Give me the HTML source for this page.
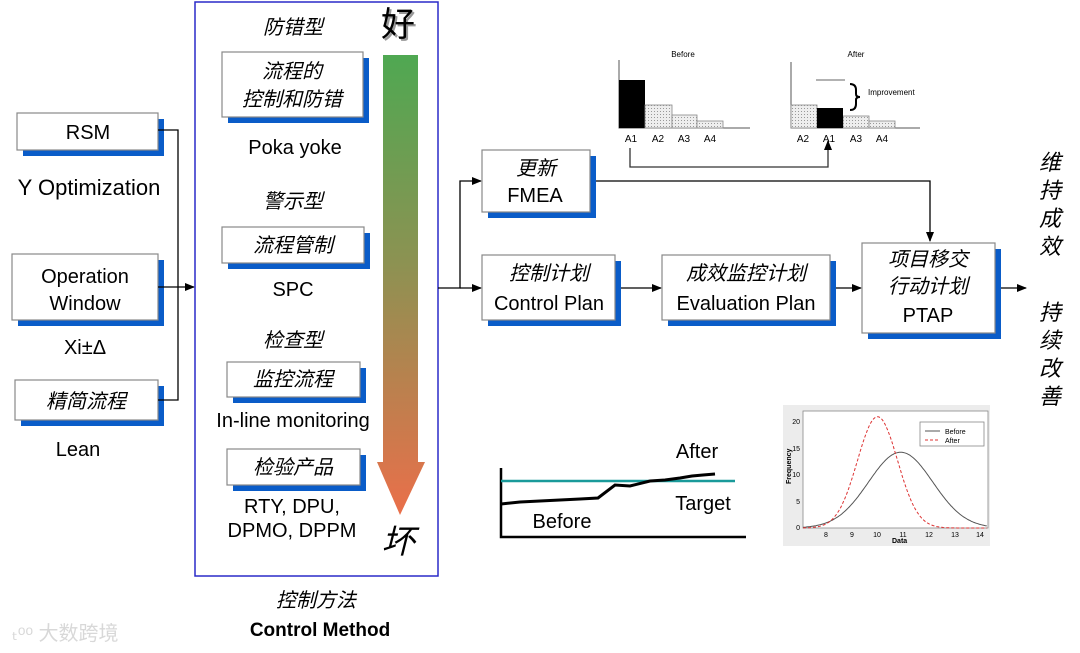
<!DOCTYPE html>
<html><head><meta charset="utf-8"><style>
html,body{margin:0;padding:0;background:#fff}
svg{display:block}
text{font-family:"Liberation Sans","Noto Sans CJK SC",sans-serif;fill:#000}
.cn{font-style:italic;font-size:20px}
.en{font-size:20px}
</style></head><body>
<svg width="1080" height="653" viewBox="0 0 1080 653" xmlns="http://www.w3.org/2000/svg">
<defs>
<linearGradient id="g" x1="0" y1="0" x2="0" y2="1">
<stop offset="0" stop-color="#4fa852"/><stop offset="0.45" stop-color="#8c9252"/><stop offset="1" stop-color="#ea6f4a"/>
</linearGradient>
<marker id="ah" markerWidth="10" markerHeight="10" refX="9" refY="5" orient="auto" markerUnits="userSpaceOnUse">
<path d="M0,1 L10,5 L0,9 z" fill="#000"/></marker>
<pattern id="dots" width="3" height="3" patternUnits="userSpaceOnUse"><rect width="3" height="3" fill="#eee"/><rect width="1" height="1" fill="#999"/></pattern>
</defs>

<!-- left boxes -->
<g stroke="none" fill="#0a5cc8">
<rect x="23" y="119" width="141" height="37"/>
<rect x="18" y="260" width="146" height="66"/>
<rect x="21" y="386" width="143" height="40"/>
</g>
<g fill="#fff" stroke="#888" stroke-width="1.2">
<rect x="17" y="113" width="141" height="37"/>
<rect x="12" y="254" width="146" height="66"/>
<rect x="15" y="380" width="143" height="40"/>
</g>
<text class="en" x="88" y="139" text-anchor="middle">RSM</text>
<text x="89" y="195" text-anchor="middle" style="font-size:22px">Y Optimization</text>
<text class="en" x="85" y="283" text-anchor="middle">Operation</text>
<text class="en" x="85" y="310" text-anchor="middle">Window</text>
<text class="en" x="85" y="354" text-anchor="middle">Xi±Δ</text>
<text class="cn" x="86" y="408" text-anchor="middle">精简流程</text>
<text class="en" x="78" y="456" text-anchor="middle">Lean</text>
<g stroke="#000" stroke-width="1.3" fill="none">
<path d="M158,130 H178 V400 H158"/>
<path d="M158,287 H194" marker-end="url(#ah)"/>
</g>

<!-- middle frame -->
<rect x="195" y="2" width="243" height="574" fill="none" stroke="#2a2ac8" stroke-width="1.5"/>
<text class="cn" x="293" y="34" text-anchor="middle">防错型</text>
<rect x="228" y="58" width="141" height="65" fill="#0a5cc8"/>
<rect x="222" y="52" width="141" height="65" fill="#fff" stroke="#888" stroke-width="1.2"/>
<text class="cn" x="292" y="78" text-anchor="middle">流程的</text>
<text class="cn" x="292" y="106" text-anchor="middle">控制和防错</text>
<text class="en" x="295" y="154" text-anchor="middle">Poka yoke</text>
<text class="cn" x="293" y="208" text-anchor="middle">警示型</text>
<rect x="228" y="233" width="142" height="36" fill="#0a5cc8"/>
<rect x="222" y="227" width="142" height="36" fill="#fff" stroke="#888" stroke-width="1.2"/>
<text class="cn" x="293" y="252" text-anchor="middle">流程管制</text>
<text class="en" x="293" y="296" text-anchor="middle">SPC</text>
<text class="cn" x="293" y="347" text-anchor="middle">检查型</text>
<rect x="233" y="368" width="133" height="35" fill="#0a5cc8"/>
<rect x="227" y="362" width="133" height="35" fill="#fff" stroke="#888" stroke-width="1.2"/>
<text class="cn" x="293" y="386" text-anchor="middle">监控流程</text>
<text class="en" x="293" y="427" text-anchor="middle">In-line monitoring</text>
<rect x="233" y="455" width="133" height="36" fill="#0a5cc8"/>
<rect x="227" y="449" width="133" height="36" fill="#fff" stroke="#888" stroke-width="1.2"/>
<text class="cn" x="293" y="474" text-anchor="middle">检验产品</text>
<text class="en" x="292" y="513" text-anchor="middle">RTY, DPU,</text>
<text class="en" x="292" y="537" text-anchor="middle">DPMO, DPPM</text>
<path d="M383,55 H418 V462 H425 L400,515 L377,462 H383 Z" fill="url(#g)"/>
<text x="400" y="38" text-anchor="middle" style="font-size:34px;fill:#999">好</text>
<text x="398" y="36" text-anchor="middle" style="font-size:34px">好</text>
<text x="398" y="553" text-anchor="middle" style="font-size:33px;font-style:italic">坏</text>
<text class="cn" x="316" y="607" text-anchor="middle">控制方法</text>
<text x="320" y="636" text-anchor="middle" style="font-size:19px;font-weight:bold">Control Method</text>

<!-- watermark -->
<text x="12" y="640" style="font-size:20px;fill:#d8d8d8">ₜᵒᵒ 大数跨境</text>

<!-- right flow -->
<g stroke="#000" stroke-width="1.3" fill="none">
<path d="M438,288 H460 V181 H481" marker-end="url(#ah)"/>
<path d="M460,288 H481" marker-end="url(#ah)"/>
<path d="M590,181 H930 V241" marker-end="url(#ah)"/>
<path d="M615,288 H661" marker-end="url(#ah)"/>
<path d="M830,288 H861" marker-end="url(#ah)"/>
<path d="M995,288 H1026" marker-end="url(#ah)"/>
</g>
<g fill="#0a5cc8">
<rect x="488" y="156" width="108" height="62"/>
<rect x="488" y="261" width="133" height="65"/>
<rect x="668" y="261" width="168" height="65"/>
<rect x="868" y="249" width="133" height="90"/>
</g>
<g fill="#fff" stroke="#888" stroke-width="1.2">
<rect x="482" y="150" width="108" height="62"/>
<rect x="482" y="255" width="133" height="65"/>
<rect x="662" y="255" width="168" height="65"/>
<rect x="862" y="243" width="133" height="90"/>
</g>
<text class="cn" x="536" y="175" text-anchor="middle">更新</text>
<text class="en" x="535" y="202" text-anchor="middle">FMEA</text>
<text class="cn" x="549" y="280" text-anchor="middle">控制计划</text>
<text class="en" x="549" y="310" text-anchor="middle">Control Plan</text>
<text class="cn" x="746" y="280" text-anchor="middle">成效监控计划</text>
<text class="en" x="746" y="310" text-anchor="middle">Evaluation Plan</text>
<text class="cn" x="928" y="266" text-anchor="middle">项目移交</text>
<text class="cn" x="928" y="293" text-anchor="middle">行动计划</text>
<text class="en" x="928" y="322" text-anchor="middle">PTAP</text>
<g style="font-size:22px;font-style:italic" text-anchor="middle">
<text x="1050" y="170">维</text><text x="1050" y="198">持</text><text x="1050" y="226">成</text><text x="1050" y="254">效</text>
<text x="1050" y="320">持</text><text x="1050" y="348">续</text><text x="1050" y="376">改</text><text x="1050" y="404">善</text>
</g>

<!-- pareto -->
<g stroke="#555" stroke-width="1" fill="none">
<path d="M619,60 V128 H750"/>
<path d="M791,62 V128 H920"/>
</g>
<rect x="619" y="80" width="26" height="48" fill="#000"/>
<g fill="url(#dots)" stroke="#888" stroke-width="0.8">
<rect x="645" y="105" width="27" height="23"/><rect x="672" y="115" width="25" height="13"/><rect x="697" y="121" width="26" height="7"/>
<rect x="791" y="105" width="26" height="23"/><rect x="843" y="116" width="26" height="12"/><rect x="869" y="121" width="26" height="7"/>
</g>
<rect x="817" y="108" width="26" height="20" fill="#000"/>
<path d="M816,80 H845" stroke="#999" stroke-width="1.5"/>
<path d="M850,84 q6,0 6,6 v4 q0,3 4,3 q-4,0 -4,3 v4 q0,6 -6,6" stroke="#000" stroke-width="2" fill="none"/>
<g style="font-size:8px" fill="#333">
<text x="683" y="57" text-anchor="middle">Before</text>
<text x="856" y="57" text-anchor="middle">After</text>
<text x="868" y="95">Improvement</text>
</g>
<g style="font-size:10px" text-anchor="middle">
<text x="631" y="142">A1</text><text x="658" y="142">A2</text><text x="684" y="142">A3</text><text x="710" y="142">A4</text>
<text x="803" y="142">A2</text><text x="829" y="142">A1</text><text x="856" y="142">A3</text><text x="882" y="142">A4</text>
</g>
<path d="M630,148 V167 H828 V141" stroke="#333" stroke-width="1.3" fill="none" marker-end="url(#ah)"/>

<!-- trend chart -->
<path d="M501,468 V537 H746" stroke="#000" stroke-width="2.5" fill="none"/>
<path d="M501,481 H735" stroke="#1a9a9a" stroke-width="2.5"/>
<path d="M501,504 L520,502 L540,501 L560,500 L580,499 L598,498 L615,485 L630,486 L650,481 L665,480 L680,478 L692,476 L703,475 L715,474" stroke="#000" stroke-width="3" fill="none"/>
<text class="en" x="697" y="458" text-anchor="middle">After</text>
<text class="en" x="703" y="510" text-anchor="middle">Target</text>
<text class="en" x="562" y="528" text-anchor="middle">Before</text>

<!-- normal chart -->
<rect x="783" y="405" width="207" height="141" fill="#ececec"/>
<rect x="803" y="411" width="185" height="117" fill="#fff" stroke="#888" stroke-width="0.8"/>
<rect x="920" y="422" width="64" height="24" fill="#fff" stroke="#888" stroke-width="0.8"/>
<path d="M925,431 H940" stroke="#555"/><path d="M925,440 H940" stroke="#d33" stroke-dasharray="3,2"/>
<g style="font-size:7px" fill="#222">
<text x="945" y="434">Before</text><text x="945" y="443">After</text>
<text x="892" y="543" style="font-weight:bold">Data</text>
<text x="791" y="484" style="font-weight:bold" transform="rotate(-90 791 484)">Frequency</text>
<text x="826" y="537" text-anchor="middle">8</text><text x="852" y="537" text-anchor="middle">9</text><text x="877" y="537" text-anchor="middle">10</text><text x="903" y="537" text-anchor="middle">11</text><text x="929" y="537" text-anchor="middle">12</text><text x="955" y="537" text-anchor="middle">13</text><text x="980" y="537" text-anchor="middle">14</text>
<text x="800" y="530" text-anchor="end">0</text><text x="800" y="504" text-anchor="end">5</text><text x="800" y="477" text-anchor="end">10</text><text x="800" y="451" text-anchor="end">15</text><text x="800" y="424" text-anchor="end">20</text>
</g>
<path id="cb" d="" stroke="#555" stroke-width="1" fill="none"/>
<path id="ca" d="" stroke="#d33" stroke-width="1" stroke-dasharray="3,2" fill="none"/>
</svg>
<script>
function mk(m,s,p){var d="";for(var v=7.1;v<=14.3;v+=0.05){var x=803+(v-7.1)*25.7;var y=528-5.3*p*Math.exp(-(v-m)*(v-m)/(2*s*s));d+=(d?"L":"M")+x.toFixed(1)+","+y.toFixed(1);}return d;}
document.getElementById("cb").setAttribute("d",mk(10.9,1.25,14.3));
document.getElementById("ca").setAttribute("d",mk(10,0.78,21));
</script>
</body></html>
